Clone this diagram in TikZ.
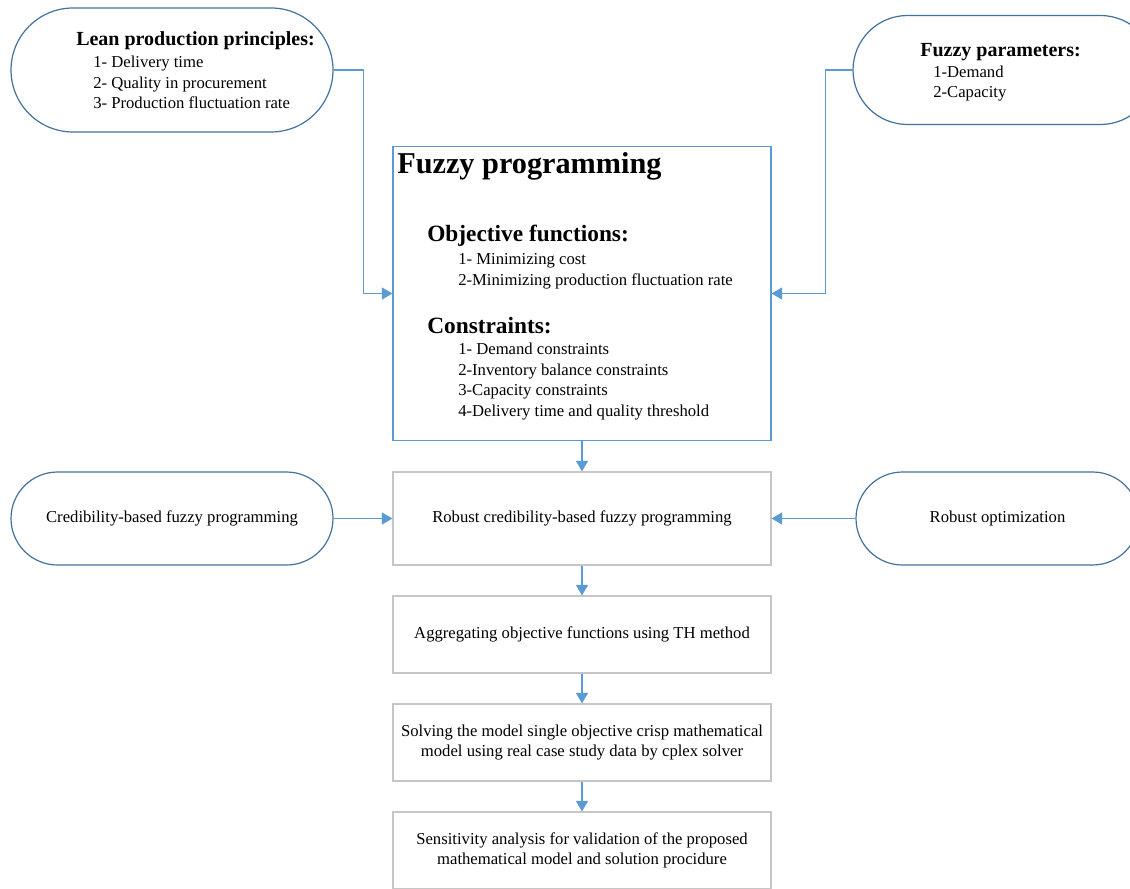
\documentclass[tikz,border=0pt]{standalone}
\usepackage{fontspec}
\setmainfont{Liberation Serif}
\usetikzlibrary{arrows.meta,shapes.misc}
\definecolor{pillblue}{HTML}{41719C}
\definecolor{arrowblue}{HTML}{5B9BD5}
\definecolor{boxgrey}{HTML}{C6C6C6}

\begin{document}
\begin{tikzpicture}[x=0.75pt, y=-0.75pt, every node/.style={inner sep=0pt},
    pill/.style={draw=pillblue, line width=0.9pt, rounded rectangle, minimum height=69.75pt, font=\fontsize{12.5}{15.4}\selectfont},
    stepbox/.style={draw=boxgrey, line width=0.8pt, minimum width=283.5pt, minimum height=57.75pt, align=center, font=\fontsize{12.5}{15.4}\selectfont},
    link/.style={draw=arrowblue, line width=1.2pt, -{Triangle[length=8pt,width=9pt]}},
    item/.style={anchor=base west, align=left, font=\fontsize{12.5}{15.4}\selectfont},
    head/.style={anchor=base west, font=\bfseries\fontsize{15}{18}\selectfont}]
      \useasboundingbox (0,0) rectangle (1130,888);
      % inputs on top (lists are placed by their last line)
      \node[pill, minimum width=241.5pt, minimum height=93pt] (lean) at (172,70) {};
      \node[head] (leanhead) at (76,46) {Lean production principles:};
      \node[item] (leanlist) at (93,109) {1- Delivery time\\2- Quality in procurement\\3- Production fluctuation rate};
      \node[pill, minimum width=226.5pt, minimum height=81.75pt] (param) at (1004,70) {};
      \node[head] (paramhead) at (920,56.5) {Fuzzy parameters:};
      \node[item] (paramlist) at (933,98) {1-Demand\\2-Capacity};
      % fuzzy programming model
      \node[draw=arrowblue, line width=0.8pt, minimum width=283.5pt, minimum height=220.5pt] (fp) at (582,293.5) {};
      \node[anchor=base west, font=\bfseries\fontsize{22.7}{26}\selectfont] (fptitle) at (397,173) {Fuzzy programming};
      \node[anchor=base west, font=\bfseries\fontsize{17.5}{20}\selectfont] (objhead) at (427,241) {Objective functions:};
      \node[item] (objlist) at (458,285) {1- Minimizing cost\\2-Minimizing production fluctuation rate};
      \node[anchor=base west, font=\bfseries\fontsize{17.5}{20}\selectfont] (conhead) at (427,333) {Constraints:};
      \node[item] (conlist) at (458,416.5) {1- Demand constraints\\2-Inventory balance constraints\\3-Capacity constraints\\4-Delivery time and quality threshold};
      % solution steps
      \node[stepbox, minimum height=69.75pt] (robust) at (582,518.5) {Robust credibility-based fuzzy programming};
      \node[pill, minimum width=241.5pt] (cred) at (172,518.5) {Credibility-based fuzzy programming};
      \node[pill, minimum width=212.25pt] (robopt) at (997.5,518.5) {Robust optimization};
      \node[stepbox] (aggr) at (582,634.5) {Aggregating objective functions using TH method};
      \node[stepbox] (solve) at (582,742.5) {Solving the model single objective crisp mathematical\\model using real case study data by cplex solver};
      \node[stepbox] (sens) at (582,850.5) {Sensitivity analysis for validation of the proposed\\mathematical model and solution procidure};
      \draw[link] (lean.east) -- ++(30,0) |- (fp.west);
      \draw[link] (param.west) -- ++(-27,0) |- (fp.east);
      \draw[link] (fp.south) -- (robust.north);
      \draw[link] (cred.east) -- (robust.west);
      \draw[link] (robopt.west) -- (robust.east);
      \draw[link] (robust.south) -- (aggr.north);
      \draw[link] (aggr.south) -- (solve.north);
      \draw[link] (solve.south) -- (sens.north);
    \end{tikzpicture}
\end{document}
